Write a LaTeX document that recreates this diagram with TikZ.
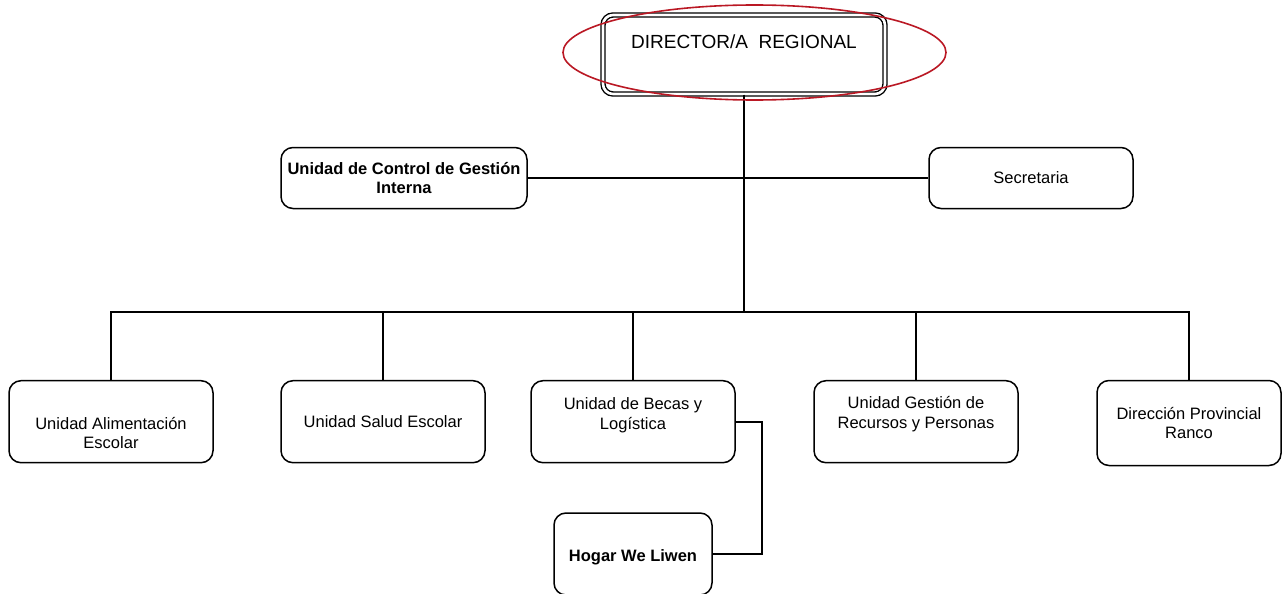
\documentclass[tikz,border=0pt]{standalone}
\usepackage{fontspec}
\setmainfont{Liberation Sans}
\definecolor{haloRed}{RGB}{186,24,36}
\tikzstyle{unit} = [rectangle, rounded corners=12pt, draw=black, line width=1.5pt, minimum width=204pt, minimum height=82pt, inner sep=0pt, align=center, font=\fontsize{16.5}{19.5}\selectfont]
\tikzstyle{keyunit} = [unit, font=\bfseries\fontsize{16.5}{18.5}\selectfont]
\tikzstyle{head} = [rectangle, rounded corners=10pt, draw=black, line width=1.4pt, double, double distance=2.6pt, minimum width=282pt, minimum height=79pt]
\tikzstyle{txt} = [align=center, inner sep=0pt, font=\fontsize{16.5}{19.5}\selectfont]
\tikzstyle{conn} = [draw=black, line width=1.6pt]
\tikzstyle{halo} = [draw=haloRed, line width=1.6pt]

\begin{document}
\begin{tikzpicture}[x=1pt, y=-1pt]
	\useasboundingbox (0,0) rectangle (1283,594);

	\node (director) [head, label={[txt, font=\fontsize{19}{23}\selectfont, yshift=12.5pt]center:DIRECTOR/A\ \ REGIONAL}] at (744,54.5) {};
	\node (control) [keyunit, minimum width=246pt, minimum height=61pt] at (404,178) {Unidad de Control de Gestión\\Interna};
	\node (secretaria) [unit, minimum height=61pt] at (1031,178) {Secretaria};

	\node (alim) [unit, label={[txt, yshift=-11.5pt]center:Unidad Alimentación\\Escolar}] at (111,421.7) {};
	\node (salud) [unit] at (383,421.7) {Unidad Salud Escolar};
	\node (becas) [unit, label={[txt, yshift=6.5pt]center:Unidad de Becas y\\Logística}] at (633,421.7) {};
	\node (gestion) [unit, label={[txt, yshift=7.5pt]center:Unidad Gestión de\\Recursos y Personas}] at (916,421.7) {};
	\node (ranco) [unit, minimum width=184pt, minimum height=85pt] at (1189,423) {Dirección Provincial\\Ranco};
	\node (hogar) [unit, minimum width=158pt, label={[txt, font=\bfseries\fontsize{16.5}{18.5}\selectfont, yshift=-3pt]center:Hogar We Liwen}] at (633,554) {};

	\coordinate (bar) at (744,312);

	\draw [conn] (director.south) -- (bar);
	\draw [conn] (control) -- (secretaria);
	\draw [conn] (alim.north) |- (bar) -| (ranco.north);
	\foreach \u in {salud, becas, gestion}
		\draw [conn] (\u.north) -- (\u.north |- bar);
	\draw [conn] (becas.east) -- ++(26,0) |- (hogar.east);

	\draw [halo] (director.center) ++(10.5,-2) ellipse [x radius=191.5pt, y radius=47.5pt];
\end{tikzpicture}
\end{document}
